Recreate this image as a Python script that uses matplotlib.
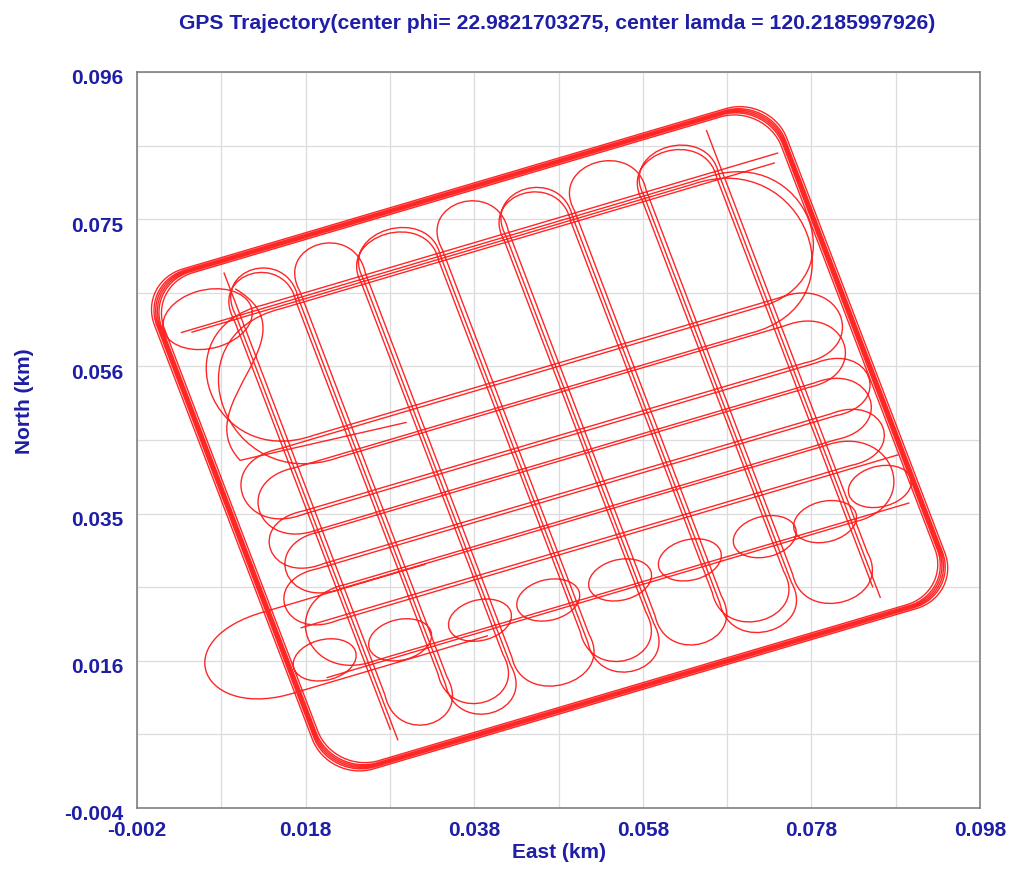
import matplotlib
matplotlib.use("Agg")
import matplotlib.pyplot as plt
from matplotlib.path import Path
from matplotlib.patches import PathPatch
from matplotlib.transforms import Affine2D, ScaledTranslation

# ---------------- texts / ticks ----------------
title_text = "GPS Trajectory(center phi= 22.9821703275, center lamda = 120.2185997926)"
x_label_text = "East (km)"
y_label_text = "North (km)"
x_ticks = [-0.002, 0.018, 0.038, 0.058, 0.078, 0.098]
x_tick_labels = ["-0.002", "0.018", "0.038", "0.058", "0.078", "0.098"]
x_minor = [0.008, 0.028, 0.048, 0.068, 0.088]
y_ticks = [-0.004, 0.016, 0.036, 0.056, 0.076, 0.096]
y_tick_labels = ["-0.004", "0.016", "0.035", "0.056", "0.075", "0.096"]
y_minor = [0.006, 0.026, 0.046, 0.066, 0.086]

# ---------------- survey block (km) ----------------
block_bl = (0.0209, -0.0002)   # bottom-left corner
block_br = (0.0966, 0.0254)    # bottom-right corner
block_tl = (-0.0018, 0.0680)   # top-left corner

# trajectory features in block fractions (s along bottom edge, t along left edge)
perim_inset = [-0.003, 0.0, 0.002, 0.004, 0.006, 0.009]
perim_smax = 0.985
perim_tmax = 0.99
perim_rs = 0.07
perim_rt = 0.085

vlane_s = [0.117, 0.214, 0.316, 0.437, 0.540, 0.644, 0.756, 0.873]
vpass_shift = [0.0, 0.006, -0.005]
vpass_top = [0.955, 0.965, 0.948]
vpass_bot = [0.035, 0.048, 0.058]
vpass_up_first = [True, False, True]

hlane_t_a = [0.880, 0.620, 0.490, 0.385, 0.282]
hlane_t_b = [0.875, 0.578, 0.455, 0.342, 0.190]
hpass_set = ["a", "b", "a", "b"]
hpass_shift = [0.0, 0.0, 0.006, -0.005]
hpass_right_first = [True, True, False, False]
hpass_left_apex = [0.030, 0.045, 0.040, 0.050]
hpass_right_apex = [0.975, 0.965, 0.968, 0.958]

ell_s = [0.057, 0.174, 0.297, 0.404, 0.516, 0.625, 0.743, 0.836, 0.932]
ell_t = [0.218, 0.214, 0.207, 0.207, 0.205, 0.204, 0.206, 0.201, 0.235]
ell_rx = 0.048
ell_ry = 0.038

corner_loop = (0.075, 0.890, 0.068, 0.055)          # centre s, t, rx, ry
stray_loop_pts = [(0.25, 0.336), (0.0, 0.336), (-0.16, 0.34), (-0.15, 0.17), (0.0, 0.175), (0.30, 0.175)]
s_curve_pts = [(0.13, 0.93), (0.22, 0.80), (0.0, 0.75), (0.045, 0.62), (0.30, 0.60)]

# ---------------- build the trajectory path ----------------
verts, codes = [], []
K = 0.5523


def move(p):
    verts.append(p); codes.append(Path.MOVETO)


def line(p):
    verts.append(p); codes.append(Path.LINETO)


def curve(c1, c2, p):
    verts.extend([c1, c2, p]); codes.extend([Path.CURVE4] * 3)


def perimeter(d):
    s0, s1, t0, t1 = d, perim_smax - d, d, perim_tmax - d
    rs, rt = perim_rs, perim_rt
    move((s0 + rs, t0))
    line((s1 - rs, t0))
    curve((s1 - rs + K * rs, t0), (s1, t0 + rt - K * rt), (s1, t0 + rt))
    line((s1, t1 - rt))
    curve((s1, t1 - rt + K * rt), (s1 - rs + K * rs, t1), (s1 - rs, t1))
    line((s0 + rs, t1))
    curve((s0 + rs - K * rs, t1), (s0, t1 - rt + K * rt), (s0, t1 - rt))
    line((s0, t0 + rt))
    curve((s0, t0 + rt - K * rt), (s0 + rs - K * rs, t0), (s0 + rs, t0))


def vertical_pass(shift, t_top, t_bot, up, h=0.075, bulge=0.012):
    lanes = [s + shift for s in vlane_s]
    move((lanes[0], t_bot if up else t_top))
    for i, s in enumerate(lanes):
        end_t = t_top - h if up else t_bot + h
        line((s, end_t))
        if i < len(lanes) - 1:
            ap = t_top if up else t_bot
            sb = lanes[i + 1]
            sg = 1 if sb > s else -1
            tc = end_t + 4.0 / 3.0 * (ap - end_t)
            curve((s - bulge * sg, tc), (sb + bulge * sg, tc), (sb, end_t))
        else:
            line((s, t_top if up else t_bot))
        up = not up


def horizontal_pass(ts, s_left, s_right, right, bulge=0.01):
    move((s_left if right else s_right, ts[0]))
    for i, t in enumerate(ts):
        if i < len(ts) - 1:
            tb = ts[i + 1]
            depth = 0.35 * abs(tb - t) + 0.03
            ap = s_right if right else s_left
            end_s = ap - depth if right else ap + depth
            line((end_s, t))
            sg = 1 if tb > t else -1
            sc = end_s + 4.0 / 3.0 * (ap - end_s)
            curve((sc, t - bulge * sg), (sc, tb + bulge * sg), (end_s, tb))
        else:
            line((s_right if right else s_left, t))
        right = not right


def ellipse(cs, ct, rx, ry):
    move((cs + rx, ct))
    curve((cs + rx, ct + K * ry), (cs + K * rx, ct + ry), (cs, ct + ry))
    curve((cs - K * rx, ct + ry), (cs - rx, ct + K * ry), (cs - rx, ct))
    curve((cs - rx, ct - K * ry), (cs - K * rx, ct - ry), (cs, ct - ry))
    curve((cs + K * rx, ct - ry), (cs + rx, ct - K * ry), (cs + rx, ct))


for d in perim_inset:
    perimeter(d)
for sh, tt, tb, up in zip(vpass_shift, vpass_top, vpass_bot, vpass_up_first):
    vertical_pass(sh, tt, tb, up)
for st, sh, rf, la, ra in zip(hpass_set, hpass_shift, hpass_right_first,
                              hpass_left_apex, hpass_right_apex):
    base = hlane_t_a if st == "a" else hlane_t_b
    horizontal_pass([t + sh for t in base], la, ra, rf)
for cs, ct in zip(ell_s, ell_t):
    ellipse(cs, ct, ell_rx, ell_ry)
ellipse(*corner_loop)
move(stray_loop_pts[0]); line(stray_loop_pts[1])
curve(stray_loop_pts[2], stray_loop_pts[3], stray_loop_pts[4]); line(stray_loop_pts[5])
move(s_curve_pts[0]); curve(s_curve_pts[1], s_curve_pts[2], s_curve_pts[3]); line(s_curve_pts[4])

traj_path = Path(verts, codes)

# ---------------- figure ----------------
blue = "#1e1ea6"
font = "Liberation Sans"
fig = plt.figure(figsize=(10.24, 8.73), dpi=100)
fig.patch.set_facecolor("white")
ax = fig.add_axes([137 / 1024, 1 - 808 / 873, 843 / 1024, 736 / 873])
ax.set_xlim(-0.002, 0.098)
ax.set_ylim(-0.004, 0.096)

block = Affine2D.from_values(block_br[0] - block_bl[0], block_br[1] - block_bl[1],
                             block_tl[0] - block_bl[0], block_tl[1] - block_bl[1],
                             block_bl[0], block_bl[1])
ax.add_patch(PathPatch(traj_path, transform=block + ax.transData, fill=False,
                       edgecolor=(1.0, 0.0, 0.0), linewidth=1.0, alpha=0.85, zorder=3))

ax.set_xticks(x_ticks)
ax.set_xticklabels(x_tick_labels)
ax.set_xticks(x_minor, minor=True)
ax.set_yticks(y_ticks)
ax.set_yticklabels(y_tick_labels)
ax.set_yticks(y_minor, minor=True)
ax.grid(True, which="both", color="#dcdcdc", linewidth=0.9, zorder=0)
ax.set_axisbelow(True)
ax.tick_params(which="both", length=0)
ax.tick_params(axis="x", pad=9.5)
ax.tick_params(axis="y", pad=10)
down = ScaledTranslation(0, -5 / 100, fig.dpi_scale_trans)
for lab in ax.get_xticklabels() + ax.get_yticklabels():
    lab.set_fontfamily(font)
    lab.set_fontweight("bold")
    lab.set_fontsize(15)
    lab.set_color(blue)
for lab in ax.get_yticklabels():
    lab.set_transform(lab.get_transform() + down)
for sp in ax.spines.values():
    sp.set_color("#808080")
    sp.set_linewidth(1.2)

fig.text(557 / 1024, 1 - 29 / 873, title_text, ha="center", va="baseline",
         fontfamily=font, fontweight="bold", fontsize=15.2, color=blue)
fig.text(559.5 / 1024, 1 - 853 / 873, x_label_text, ha="center", va="center",
         fontfamily=font, fontweight="bold", fontsize=15, color=blue)
fig.text(25 / 1024, 1 - 401 / 873, y_label_text, ha="center", va="center", rotation=90,
         fontfamily=font, fontweight="bold", fontsize=15, color=blue)

fig.savefig("out.png", dpi=100)
